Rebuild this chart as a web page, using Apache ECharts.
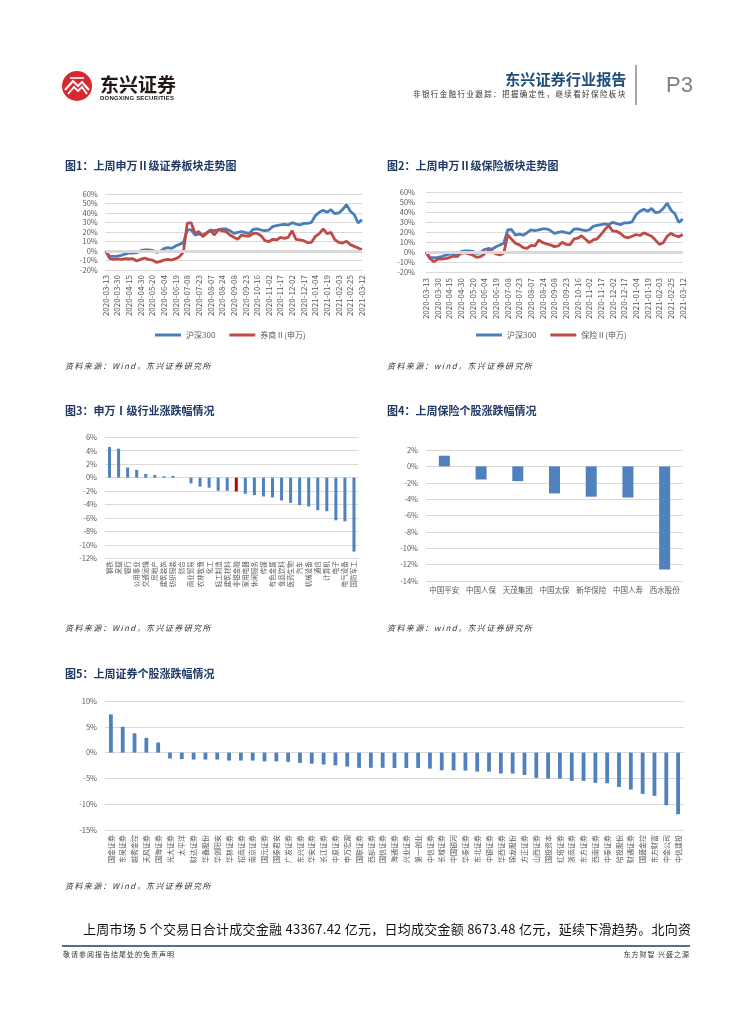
<!DOCTYPE html>
<html>
<head>
<meta charset="utf-8">
<script src="https://cdn.jsdelivr.net/npm/echarts/dist/echarts.min.js"></script>
<style>
  html,body{margin:0;padding:0;background:#fff;}
  #page{position:relative;width:755px;height:1024px;overflow:hidden;background:#fff;font-family:"Noto Sans CJK SC","Noto Sans",sans-serif;}
  #chart{position:absolute;left:0;top:0;width:755px;height:1024px;}
  .t{position:absolute;white-space:nowrap;line-height:1;}
  .title{font-size:11px;font-weight:bold;color:#1f3864;}
  .src{font-size:8px;font-style:italic;color:#333;letter-spacing:1.4px;}
</style>
</head>
<body>
<div id="page">
  <div id="chart"></div>
  <!-- header -->
  <svg class="t" style="left:61px;top:70px" width="32" height="32" viewBox="0 0 32 32">
    <circle cx="16" cy="16" r="15" fill="#d7282f"/>
    <path d="M4 20 L12 11 L17 16 L21 12 L28 20" stroke="#fff" stroke-width="2.2" fill="none"/>
    <path d="M7 24 L13 17 L17 21 L21 17 L26 24" stroke="#fff" stroke-width="1.8" fill="none"/>
    <path d="M9 8 L23 8" stroke="#fff" stroke-width="1.6"/>
  </svg>
  <div class="t" style="left:100px;top:74px;font-size:19px;font-weight:bold;color:#231815;">东兴证券</div>
  <div class="t" style="left:100px;top:95px;font-size:6px;font-weight:bold;color:#231815;font-family:'Liberation Sans',sans-serif;letter-spacing:0.2px;">DONGXING SECURITIES</div>
  <div class="t" style="left:505px;top:71px;font-size:15.2px;font-weight:bold;color:#1f4e79;">东兴证券行业报告</div>
  <div class="t" style="left:413px;top:90px;font-size:7.5px;color:#333;letter-spacing:1.4px;">非银行金融行业跟踪：把握确定性，继续看好保险板块</div>
  <div class="t" style="left:635px;top:65px;width:1.5px;height:40px;background:#a6a6a6;"></div>
  <div class="t" style="left:666px;top:74px;font-size:22px;color:#7f7f7f;font-family:'Liberation Sans',sans-serif;">P3</div>

  <!-- titles -->
  <div class="t title" style="left:65px;top:159.5px;">图1：上周申万Ⅱ级证券板块走势图</div>
  <div class="t title" style="left:387px;top:159.5px;">图2：上周申万Ⅱ级保险板块走势图</div>
  <div class="t title" style="left:65px;top:404.5px;">图3：申万Ⅰ级行业涨跌幅情况</div>
  <div class="t title" style="left:387px;top:404.5px;">图4：上周保险个股涨跌幅情况</div>
  <div class="t title" style="left:65px;top:667.5px;">图5：上周证券个股涨跌幅情况</div>

  <!-- sources -->
  <div class="t src" style="left:65px;top:362px;">资料来源：Wind，东兴证券研究所</div>
  <div class="t src" style="left:387px;top:362px;">资料来源：wind，东兴证券研究所</div>
  <div class="t src" style="left:65px;top:624px;">资料来源：Wind，东兴证券研究所</div>
  <div class="t src" style="left:387px;top:624px;">资料来源：wind，东兴证券研究所</div>
  <div class="t src" style="left:65px;top:882px;">资料来源：Wind，东兴证券研究所</div>

  <!-- body -->
  <div class="t" style="left:83px;top:921.5px;font-size:13px;color:#111;letter-spacing:0.25px;">上周市场 5 个交易日合计成交金融 43367.42 亿元，日均成交金额 8673.48 亿元，延续下滑趋势。北向资</div>

  <!-- footer -->
  <div class="t" style="left:62px;top:945px;width:628px;height:1.5px;background:#4f6f94;"></div>
  <div class="t" style="left:63px;top:951px;font-size:7px;color:#333;letter-spacing:1px;">敬请参阅报告结尾处的免责声明</div>
  <div class="t" style="right:65px;top:951px;font-size:7px;color:#333;letter-spacing:1px;">东方财智 兴盛之源</div>
</div>
<script>
// ---------- data ----------
const dates = ["2020-03-13","2020-03-19","2020-03-24","2020-03-30","2020-04-03","2020-04-09","2020-04-15","2020-04-21","2020-04-24","2020-04-30","2020-05-08","2020-05-13","2020-05-20","2020-05-26","2020-05-29","2020-06-04","2020-06-10","2020-06-15","2020-06-19","2020-06-29","2020-07-02","2020-07-08","2020-07-14","2020-07-17","2020-07-23","2020-07-29","2020-08-03","2020-08-07","2020-08-13","2020-08-18","2020-08-24","2020-08-28","2020-09-02","2020-09-08","2020-09-14","2020-09-17","2020-09-23","2020-09-29","2020-10-12","2020-10-16","2020-10-22","2020-10-27","2020-11-02","2020-11-06","2020-11-11","2020-11-17","2020-11-23","2020-11-26","2020-12-02","2020-12-08","2020-12-11","2020-12-17","2020-12-23","2020-12-28","2021-01-04","2021-01-08","2021-01-13","2021-01-19","2021-01-25","2021-01-28","2021-02-03","2021-02-09","2021-02-19","2021-02-25","2021-03-03","2021-03-08","2021-03-12"];

const hs300 = [0,-5.3,-5.6,-5.3,-4.6,-3.2,-2.1,-2.1,-1.8,0.4,1.1,1.1,0.7,-1.4,-0.7,2.5,3.5,2.8,5.3,7.0,8.8,22.0,22.5,16.8,17.9,16.8,19.3,22.1,21.4,22.1,23.2,23.2,21.4,18.6,19.6,20.4,19.3,18.6,22.8,23.2,22.1,21.4,22.1,25.6,26.7,27.4,28.1,27.4,29.8,28.4,27.4,29.1,29.1,30.2,37.2,40.7,42.8,40.7,43.5,39.3,40.0,43.5,48.8,41.8,38.2,29.5,33.0];

const quanshang = [0,-7.7,-8.8,-8.4,-8.8,-8.1,-8.4,-8.1,-10.5,-8.8,-7.4,-8.8,-9.5,-11.9,-11.2,-9.5,-8.8,-9.5,-8.1,-6.0,-1.0,29.0,29.8,18.6,20.4,15.1,18.6,21.4,16.8,22.8,21.1,20.4,16.8,14.4,12.3,16.8,15.8,15.8,18.6,18.6,16.1,10.9,9.8,12.3,11.6,14.4,13.3,14.4,21.4,12.3,11.6,10.9,8.8,9.1,15.4,18.2,23.2,18.2,19.6,11.9,9.1,8.4,10.2,6.7,4.9,3.2,1.4];

const baoxian = [0,-6.4,-9.8,-7.1,-7.1,-6.7,-5.7,-4.0,-4.7,-1.3,-0.7,-2.0,-3.0,-5.4,-4.7,-2.0,1.3,0.3,-2.0,-3.0,-1.3,17.2,12.8,8.8,7.1,4.4,3.7,6.7,6.1,12.1,9.4,8.1,7.1,5.4,6.1,9.8,7.7,7.1,12.8,13.8,16.2,12.8,9.4,12.1,13.2,17.5,22.4,26.4,20.8,20.8,18.5,15.2,14.2,15.8,17.5,16.5,19.1,17.5,15.8,11.9,7.6,9.2,15.8,18.5,16.5,15.2,17.5];

const industries = ["钢铁","采掘","银行","公用事业","交通运输","房地产","建筑装饰","纺织服装","综合","商业贸易","农林牧渔","化工","轻工制造","建筑材料","非银金融","家用电器","休闲服务","传媒","有色金属","食品饮料","医药生物","汽车","机械设备","通信","计算机","电子","电气设备","国防军工"];
const industryChg = [4.55,4.3,1.5,1.15,0.55,0.4,0.2,0.25,0,-0.85,-1.35,-1.5,-1.95,-1.95,-2.05,-2.4,-2.6,-2.8,-2.95,-3.4,-3.75,-4.1,-4.3,-4.85,-5.0,-6.35,-6.5,-11.0];
const highlightIndustry = "非银金融";

const insurers = ["中国平安","中国人保","天茂集团","中国太保","新华保险","中国人寿","西水股份"];
const insurerChg = [1.3,-1.6,-1.8,-3.3,-3.7,-3.8,-12.6];

const brokers = ["国金证券","东吴证券","越秀金控","天风证券","国海证券","光大证券","太平洋","财达证券","华鑫股份","华创阳安","华林证券","招商证券","南京证券","国元证券","国泰君安","广发证券","东兴证券","华安证券","长江证券","中原证券","申万宏源","国联证券","西部证券","国信证券","海通证券","兴业证券","第一创业","中信证券","长城证券","中国银河","华泰证券","东北证券","中银证券","华西证券","锦龙股份","方正证券","山西证券","国投资本","红塔证券","浙商证券","东方证券","西南证券","中泰证券","哈投股份","财通证券","国盛金控","东方财富","中金公司","中信建投"];
const brokerChg = [7.4,5.0,3.75,2.85,1.95,-1.15,-1.25,-1.35,-1.35,-1.35,-1.55,-1.55,-1.55,-1.7,-1.7,-1.8,-2.0,-2.15,-2.3,-2.45,-2.7,-2.95,-2.95,-2.95,-2.97,-2.97,-2.97,-3.1,-3.42,-3.42,-3.48,-3.68,-3.68,-4.06,-4.06,-4.32,-4.9,-5.03,-5.03,-5.48,-5.48,-5.87,-5.94,-6.65,-7.16,-8.0,-8.39,-10.19,-11.94];

const lineYTicks = {min:-20, max:60, interval:10};
const ind1Ticks = {min:-12, max:6, interval:2};
const insTicks = {min:-14, max:2, interval:2};
const brkTicks = {min:-15, max:10, interval:5};

// ---------- styles ----------
const BLUE = '#4a7ebb', RED = '#be4b48', BAR = '#4f81bd', BARRED = '#c00000';
const LBL = '#595959', GRID = '#d9d9d9';
const FONT = '"Noto Sans CJK SC","Noto Sans",sans-serif';

function yAx(gi, t, margin, fs){
  return {type:'value', gridIndex:gi, min:t.min, max:t.max, interval:t.interval,
    axisLine:{show:false}, axisTick:{show:false},
    axisLabel:{formatter:'{value}%', fontSize:fs, color:LBL, margin:margin, fontFamily:FONT},
    splitLine:{show:true, lineStyle:{color:GRID, width:1}}};
}
function xCat(gi, data, opts){
  return Object.assign({type:'category', gridIndex:gi, data:data,
    axisLine:{show:false, onZero:false}, axisTick:{show:false}, splitLine:{show:false}}, opts);
}

const option = {
  animation:false,
  textStyle:{fontFamily:FONT},
  grid:[
    {left:105.7, top:194, width:256.3, height:76, outerBoundsMode:'none'},
    {left:426, top:192, width:256.7, height:80, outerBoundsMode:'none'},
    {left:105, top:437.3, width:253.5, height:121, outerBoundsMode:'none'},
    {left:426, top:450, width:257, height:131, outerBoundsMode:'none'},
    {left:105, top:701, width:579, height:129, outerBoundsMode:'none'}
  ],
  xAxis:[
    xCat(0, dates, {boundaryGap:false, axisLabel:{interval:2, rotate:90, fontSize:8, color:LBL, margin:5, fontFamily:FONT}}),
    xCat(1, dates, {boundaryGap:false, axisLabel:{interval:2, rotate:90, fontSize:8, color:LBL, margin:6, fontFamily:FONT}}),
    xCat(2, industries, {axisLabel:{interval:0, rotate:90, fontSize:6.5, color:LBL, margin:3, fontFamily:FONT}}),
    xCat(3, insurers, {axisLabel:{interval:0, fontSize:7.5, color:LBL, margin:5, fontFamily:FONT}}),
    xCat(4, brokers, {axisLabel:{interval:0, rotate:90, fontSize:7, color:LBL, margin:5, fontFamily:FONT}})
  ],
  yAxis:[
    yAx(0, lineYTicks, 8, 7.5),
    yAx(1, lineYTicks, 11, 7.5),
    yAx(2, ind1Ticks, 8, 7.5),
    yAx(3, insTicks, 8, 7.5),
    yAx(4, brkTicks, 8, 7.5)
  ],
  legend:[
    {data:['沪深300','券商Ⅱ(申万)'], left:150, top:326, icon:'rect', itemWidth:26, itemHeight:3, itemGap:14,
      textStyle:{fontSize:8, color:LBL, fontFamily:FONT}},
    {data:['沪深300','保险Ⅱ(申万)'], left:471, top:326, icon:'rect', itemWidth:26, itemHeight:3, itemGap:14,
      textStyle:{fontSize:8, color:LBL, fontFamily:FONT}}
  ],
  series:[
    {name:'沪深300', type:'line', xAxisIndex:0, yAxisIndex:0, data:hs300, symbol:'none', z:2,
      lineStyle:{color:BLUE, width:2.8}, itemStyle:{color:BLUE},
      markLine:{silent:true, symbol:'none', label:{show:false}, lineStyle:{color:GRID, width:3, type:'solid'}, data:[{yAxis:0}]}},
    {name:'券商Ⅱ(申万)', type:'line', xAxisIndex:0, yAxisIndex:0, data:quanshang, symbol:'none', z:3,
      lineStyle:{color:RED, width:2.8}, itemStyle:{color:RED}},
    {name:'沪深300', type:'line', xAxisIndex:1, yAxisIndex:1, data:hs300, symbol:'none', z:2,
      lineStyle:{color:BLUE, width:2.8}, itemStyle:{color:BLUE},
      markLine:{silent:true, symbol:'none', label:{show:false}, lineStyle:{color:GRID, width:3, type:'solid'}, data:[{yAxis:0}]}},
    {name:'保险Ⅱ(申万)', type:'line', xAxisIndex:1, yAxisIndex:1, data:baoxian, symbol:'none', z:3,
      lineStyle:{color:RED, width:2.8}, itemStyle:{color:RED}},
    {type:'bar', xAxisIndex:2, yAxisIndex:2, data:industryChg, barWidth:3,
      itemStyle:{color:function(p){return p.name===highlightIndustry?BARRED:BAR;}}},
    {type:'bar', xAxisIndex:3, yAxisIndex:3, data:insurerChg, barWidth:11, itemStyle:{color:BAR}},
    {type:'bar', xAxisIndex:4, yAxisIndex:4, data:brokerChg, barWidth:3.8, itemStyle:{color:BAR}}
  ]
};
const chart = echarts.init(document.getElementById('chart'), null, {renderer:'canvas'});
chart.setOption(option);
</script>
</body>
</html>
